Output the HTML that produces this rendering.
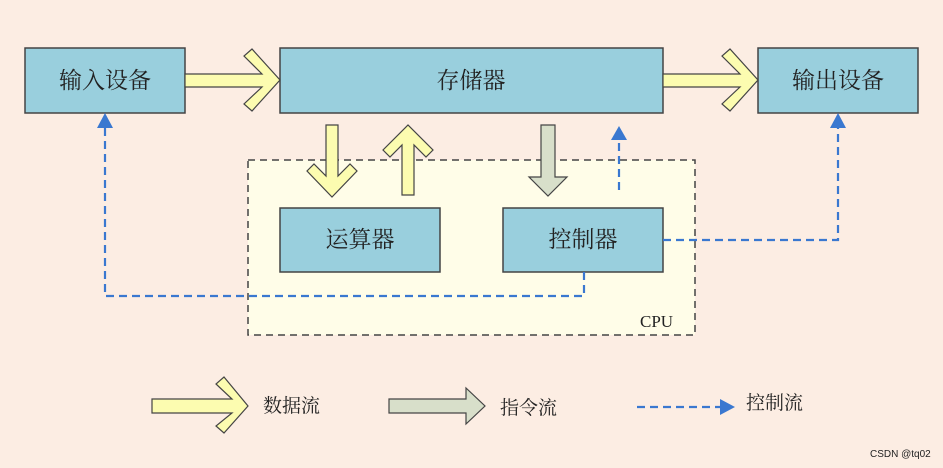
<!DOCTYPE html>
<html><head><meta charset="utf-8"><style>
html,body{margin:0;padding:0;background:#fcede3;}
svg{display:block}
text{font-family:"Liberation Serif","Noto Serif CJK SC","Noto Sans CJK SC",serif;fill:#222;}
</style></head><body>
<svg width="943" height="468" viewBox="0 0 943 468" xmlns="http://www.w3.org/2000/svg">
<rect width="943" height="468" fill="#fcede3"/>
<rect x="248" y="160" width="447" height="175" fill="#fffde8" stroke="#444" stroke-width="1.5" stroke-dasharray="7,5"/>
<text x="640" y="327" font-size="17">CPU</text>
<g fill="#99cfdd" stroke="#444" stroke-width="1.5">
<rect x="25" y="48" width="160" height="65"/>
<rect x="280" y="48" width="383" height="65"/>
<rect x="758" y="48" width="160" height="65"/>
<rect x="280" y="208" width="160" height="64"/>
<rect x="503" y="208" width="160" height="64"/>
</g>
<g font-size="23" text-anchor="middle">
<text x="105" y="88">输入设备</text>
<text x="471" y="88">存储器</text>
<text x="838" y="88">输出设备</text>
<text x="360" y="247">运算器</text>
<text x="583" y="247">控制器</text>
</g>
<g fill="#fcfcb0" stroke="#444" stroke-width="1.2">
<polygon points="185,74 262,74 244,56 252,49 280,80 252,111 244,104 262,87 185,87"/>
<polygon points="663,74 740,74 722,56 730,49 758,80 730,111 722,104 740,87 663,87"/>
<polygon points="326,125 338,125 338,176 350,164 357,171 332,197 307,171 314,164 326,176"/>
<polygon points="402,195 414,195 414,145 426,157 433,150 408,125 383,150 390,157 402,145"/>
<polygon points="152,399 232,399 216,384 224,377 248,406 224,433 216,426 232,413 152,413"/>
</g>
<g fill="#d8dfca" stroke="#444" stroke-width="1.2">
<polygon points="541,125 555,125 555,177 567,177 548,196 529,177 541,177"/>
<polygon points="389,399 466,399 466,388 485,406 466,424 466,413 389,413"/>
</g>
<g fill="none" stroke="#3a78d0" stroke-width="2.2" stroke-dasharray="8,5">
<polyline points="619,190 619,140"/>
<polyline points="663,240 838,240 838,128"/>
<polyline points="584,272 584,296 105,296 105,128"/>
<polyline points="637,407 720,407"/>
</g>
<g fill="#3a78d0">
<polygon points="619,126 611,140 627,140"/>
<polygon points="838,113 830,128 846,128"/>
<polygon points="105,113 97,128 113,128"/>
<polygon points="735,407 720,399 720,415"/>
</g>
<g font-size="19">
<text x="263" y="412">数据流</text>
<text x="500" y="414">指令流</text>
<text x="746" y="409">控制流</text>
</g>
<text x="870" y="457" font-size="10" style="font-family:'Liberation Sans',sans-serif" fill="#999">CSDN @tq02</text>
</svg>
</body></html>
